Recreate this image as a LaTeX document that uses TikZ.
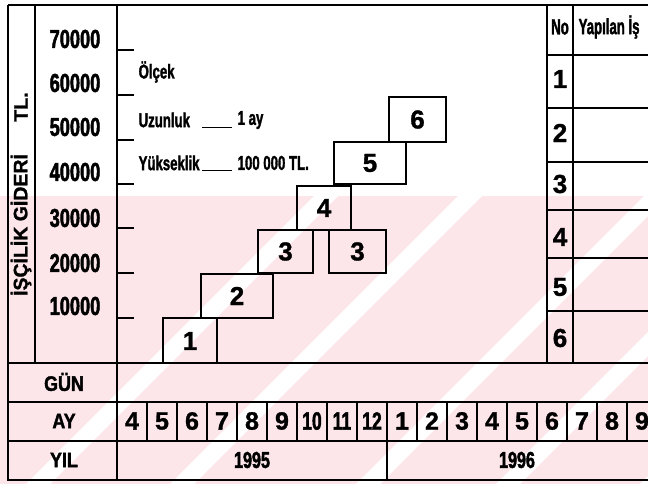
\documentclass[tikz,border=0pt]{standalone}
\usepackage{fontspec}
\setmainfont{Liberation Sans}
\newfontfamily\cf{Liberation Sans}[FakeStretch=0.7,FakeBold=1.8]
\newfontfamily\cl{Liberation Sans}[FakeStretch=0.66,FakeBold=1.5]
\newfontfamily\ch{Liberation Sans}[FakeStretch=0.6,FakeBold=1.5]
\newfontfamily\cfb{Liberation Sans}[FakeStretch=0.85,FakeBold=1.8]
\newfontfamily\nf{Liberation Sans}[FakeBold=1.2]
\definecolor{wm}{RGB}{252,230,234}
\begin{document}
\begin{tikzpicture}[x=1pt,y=-1pt,line width=1.3pt,
  frame/.style={black, line width=1.4pt},
  thin/.style={black, line width=0.9pt},
  ynum/.style={font=\cf\bfseries\fontsize{26}{26}\selectfont, inner sep=0pt},
  leg/.style={font=\cl\bfseries\fontsize{20}{20}\selectfont, inner sep=0pt, anchor=west},
  hdr/.style={font=\ch\bfseries\fontsize{22}{22}\selectfont, inner sep=0pt},
  big/.style={font=\nf\bfseries\fontsize{26}{26}\selectfont, inner sep=0pt},
  mon/.style={font=\nf\bfseries\fontsize{25}{25}\selectfont, inner sep=0pt},
  rowlab/.style={font=\cfb\bfseries\fontsize{21}{21}\selectfont, inner sep=0pt},
  bar/.style={draw=black, line width=1.3pt, fill=none}]
\useasboundingbox (0,0) rectangle (648,484);
% watermark
\begin{scope}
  \clip (0,196) rectangle (648,484);
  \fill[wm] (0,196) rectangle (648,484);
  \foreach \b in {26,170,356,496,640}
    \fill[white] (\b,484) -- (\b+24,484) -- (\b+24+288,196) -- (\b+288,196) -- cycle;
\end{scope}
% frame
\draw[frame] (8,5) -- (648,5);
\draw[frame] (8,5) -- (8,480) -- (648,480);
\draw[frame] (35,5) -- (35,363);
\draw[frame] (117,5) -- (117,480);
\draw[frame] (8,363) -- (648,363);
\draw[frame] (8,402) -- (648,402);
\draw[frame] (8,441) -- (648,441);
\draw[frame] (547,5) -- (547,363);
\draw[frame] (573,5) -- (573,363);
\foreach \y in {55,108,162,210,258,311}
  \draw[frame] (547,\y) -- (648,\y);
\foreach \k in {1,...,17}
  \draw[frame] (117+30*\k,402) -- (117+30*\k,441);
\draw[frame] (387,441) -- (387,480);
\foreach \y in {50,95,140,184,228,273,318}
  \draw[frame] (117,\y) -- (134,\y);
% axis title
\node[font=\nf\bfseries\fontsize{19.5}{19.5}\selectfont, rotate=90, inner sep=0pt] (ttl) at (21,225) {İŞÇİLİK GİDERİ};
\node[font=\nf\bfseries\fontsize{19.5}{19.5}\selectfont, rotate=90, inner sep=0pt] (ttl2) at (21,107) {TL.};
% axis numbers
\node[ynum] (n7) at (75,39) {70000};
\node[ynum] (n6) at (75,83) {60000};
\node[ynum] (n5) at (75,127) {50000};
\node[ynum] (n4) at (75,172) {40000};
\node[ynum] (n3) at (75,218) {30000};
\node[ynum] (n2) at (75,263) {20000};
\node[ynum] (n1) at (75,306) {10000};
% legend
\node[leg] (olc) at (138,72) {Ölçek};
\node[leg] (uz) at (138,120) {Uzunluk};
\draw[thin] (202,127) -- (232,127);
\node[leg] (uzv) at (237,120) {1 ay};
\node[leg] (yk) at (138,163) {Yükseklik};
\draw[thin] (202,170) -- (232,170);
\node[leg] (ykv) at (237,163) {100 000 TL.};
% bars
\draw[bar] (163,363) -- (163,318) -- (217,318) -- (217,363);
\node[big] (b1) at (190,341) {1};
\draw[bar] (201,274) rectangle (273,318);
\node[big] (b2) at (237,296) {2};
\draw[bar] (258,230) rectangle (313,273);
\node[big] (b3a) at (285.5,251.5) {3};
\draw[bar] (329,230) rectangle (386,273);
\node[big] (b3b) at (357.5,251.5) {3};
\draw[bar] (297,186) rectangle (351,230);
\node[big] (b4) at (324,208) {4};
\draw[bar] (334,142) rectangle (406,184);
\node[big] (b5) at (370,163) {5};
\draw[bar] (389,97) rectangle (446,142);
\node[big] (b6) at (417.5,119.5) {6};
% right table
\node[hdr] (no) at (560,27) {No};
\node[hdr, anchor=west] (yi) at (578,27) {Yapılan İş};
\node[big] (t1) at (560,79) {1};
\node[big] (t2) at (560,133) {2};
\node[big] (t3) at (560,184) {3};
\node[big] (t4) at (560,237) {4};
\node[big] (t5) at (560,287) {5};
\node[big] (t6) at (560,338) {6};
% bottom rows
\node[rowlab] (gun) at (64,382) {GÜN};
\node[rowlab] (ay) at (64,421) {AY};
\node[rowlab] (yil) at (64,460) {YIL};
\node[rowlab, font=\cf\bfseries\fontsize{23}{23}\selectfont] (y95) at (252,460) {1995};
\node[rowlab, font=\cf\bfseries\fontsize{23}{23}\selectfont] (y96) at (517,460) {1996};
\foreach \m [count=\i from 0] in {4,5,6,7,8,9}
  \node[mon] (m\i) at (132+30*\i,421) {\m};
\node[mon, font=\cf\bfseries\fontsize{25}{25}\selectfont] (m6) at (312,421) {10};
\node[mon, font=\cf\bfseries\fontsize{25}{25}\selectfont] (m7) at (342,421) {11};
\node[mon, font=\cf\bfseries\fontsize{25}{25}\selectfont] (m8) at (372,421) {12};
\foreach \m [count=\i from 9] in {1,2,3,4,5,6,7,8,9}
  \node[mon] (m\i) at (132+30*\i,421) {\m};
\end{tikzpicture}
\end{document}
